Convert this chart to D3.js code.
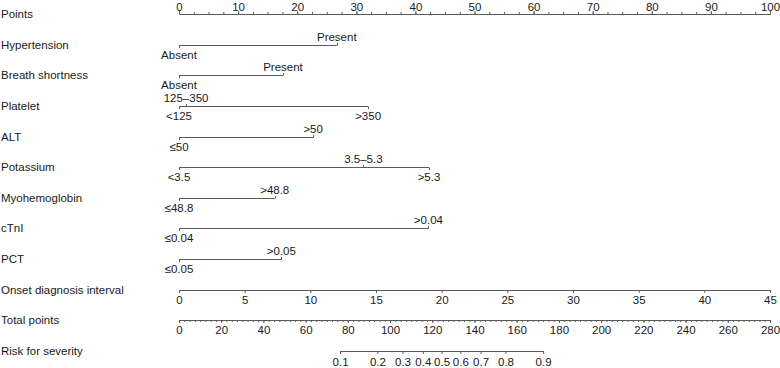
<!DOCTYPE html>
<html>
<head>
<meta charset="utf-8">
<script src="https://cdn.jsdelivr.net/npm/d3@7"></script>
<style>
  html, body { margin: 0; padding: 0; background: #fff; }
  svg { display: block; }
  text { font-family: "Liberation Sans", Arial, Helvetica, sans-serif; fill: #1a1a1a; }
</style>
</head>
<body>
<svg id="chart" width="780" height="368"></svg>
<script>
// ---------------- data ----------------
const rowNames = ["Points", "Hypertension", "Breath shortness", "Platelet", "ALT", "Potassium",
  "Myohemoglobin", "cTnI", "PCT", "Onset diagnosis interval", "Total points", "Risk for severity"];

const pointsTicks = [0, 10, 20, 30, 40, 50, 60, 70, 80, 90, 100];
const pointsMinor = d3.range(0, 100.01, 2.5);

// categorical predictors: level labels, point values, label side (1 = above, -1 = below)
const hypertensionLevels = ["Absent", "Present"];
const hypertensionPoints = [0, 26.7];
const hypertensionSide = [-1, 1];

const breathLevels = ["Absent", "Present"];
const breathPoints = [0, 17.6];
const breathSide = [-1, 1];

const plateletLevels = ["<125", "125–350", ">350"];
const plateletPoints = [0, 1.2, 32.0];
const plateletSide = [-1, 1, -1];

const altLevels = ["≤50", ">50"];
const altPoints = [0, 22.7];
const altSide = [-1, 1];

const potassiumLevels = ["<3.5", "3.5–5.3", ">5.3"];
const potassiumPoints = [0, 31.2, 42.3];
const potassiumSide = [-1, 1, -1];

const myoLevels = ["≤48.8", ">48.8"];
const myoPoints = [0, 16.2];
const myoSide = [-1, 1];

const ctniLevels = ["≤0.04", ">0.04"];
const ctniPoints = [0, 42.2];
const ctniSide = [-1, 1];

const pctLevels = ["≤0.05", ">0.05"];
const pctPoints = [0, 17.3];
const pctSide = [-1, 1];

const onsetTicks = [0, 5, 10, 15, 20, 25, 30, 35, 40, 45];

const totalTicks = [0, 20, 40, 60, 80, 100, 120, 140, 160, 180, 200, 220, 240, 260, 280];
const totalMinor = d3.range(0, 280.01, 2.5);

const riskLabels = ["0.1", "0.2", "0.3", "0.4", "0.5", "0.6", "0.7", "0.8", "0.9"];
const riskTotalPoints = [76.3, 94.0, 105.9, 115.5, 124.4, 133.3, 142.9, 154.7, 172.5];

// ---------------- layout ----------------
const svg = d3.select("#chart");
const x0 = 179, x1 = 770;
const xPts = d3.scaleLinear().domain([0, 100]).range([x0, x1]);
const xOnset = d3.scaleLinear().domain([0, 45]).range([x0, x1]);
const xTot = d3.scaleLinear().domain([0, 280]).range([x0, x1]);
const yRow = d3.scalePoint().domain(rowNames).range([14, 351]);

const lineColor = "#5a5a5a";
const fs = "11.5px";

// row labels
svg.append("g").selectAll("text").data(rowNames).join("text")
  .attr("x", 1).attr("y", d => yRow(d) + 4)
  .style("font-size", fs)
  .text(d => d);

function styleAxis(g) {
  g.selectAll("path.domain").attr("stroke", lineColor).attr("stroke-width", 1);
  g.selectAll(".tick line").attr("stroke", lineColor).attr("stroke-width", 1);
  g.selectAll(".tick text").style("font-size", fs).attr("fill", "#1a1a1a")
    .style("font-family", '"Liberation Sans", Arial, sans-serif');
}

// Points axis (top)
const gPts = svg.append("g").attr("transform", `translate(0,${yRow("Points")})`);
gPts.append("g").call(d3.axisTop(xPts).tickValues(pointsMinor).tickFormat("").tickSize(2).tickSizeOuter(0)).call(styleAxis);
gPts.append("g").call(d3.axisTop(xPts).tickValues(pointsTicks).tickSize(3).tickPadding(0.5).tickSizeOuter(0)).call(styleAxis);

// categorical predictor rows
const catRows = [
  ["Hypertension", hypertensionLevels, hypertensionPoints, hypertensionSide],
  ["Breath shortness", breathLevels, breathPoints, breathSide],
  ["Platelet", plateletLevels, plateletPoints, plateletSide],
  ["ALT", altLevels, altPoints, altSide],
  ["Potassium", potassiumLevels, potassiumPoints, potassiumSide],
  ["Myohemoglobin", myoLevels, myoPoints, myoSide],
  ["cTnI", ctniLevels, ctniPoints, ctniSide],
  ["PCT", pctLevels, pctPoints, pctSide]
];

catRows.forEach(([name, levels, pts, side]) => {
  const y = Math.round(yRow(name)) + 0.5;
  const g = svg.append("g");
  const ext = d3.extent(pts);
  g.append("line")
    .attr("x1", xPts(ext[0])).attr("x2", xPts(ext[1]))
    .attr("y1", y).attr("y2", y)
    .attr("stroke", lineColor).attr("stroke-width", 1);
  levels.forEach((lab, i) => {
    const x = Math.round(xPts(pts[i])) + 0.5;
    g.append("line")
      .attr("x1", x).attr("x2", x)
      .attr("y1", y).attr("y2", side[i] > 0 ? y - 2.5 : y + 2.5)
      .attr("stroke", lineColor).attr("stroke-width", 1);
    g.append("text")
      .attr("x", xPts(pts[i]))
      .attr("y", side[i] > 0 ? y - 5 : y + 13)
      .attr("text-anchor", "middle")
      .style("font-size", fs)
      .text(lab);
  });
});

// Onset diagnosis interval
svg.append("g").attr("transform", `translate(0,${Math.round(yRow("Onset diagnosis interval"))})`)
  .call(d3.axisBottom(xOnset).tickValues(onsetTicks).tickSize(3).tickPadding(3).tickSizeOuter(0))
  .call(styleAxis);

// Total points
const gTot = svg.append("g").attr("transform", `translate(0,${Math.round(yRow("Total points"))})`);
gTot.append("g").call(d3.axisBottom(xTot).tickValues(totalMinor).tickFormat("").tickSize(2).tickSizeOuter(0)).call(styleAxis);
gTot.append("g").call(d3.axisBottom(xTot).tickValues(totalTicks).tickSize(3).tickPadding(3).tickSizeOuter(0)).call(styleAxis);

// Risk for severity: axis spans only the labelled risk range
const xRisk = d3.scaleLinear()
  .domain(d3.extent(riskTotalPoints))
  .range(d3.extent(riskTotalPoints).map(xTot));
svg.append("g").attr("transform", `translate(0,${Math.round(yRow("Risk for severity"))})`)
  .call(d3.axisBottom(xRisk).tickValues(riskTotalPoints)
    .tickFormat((d, i) => riskLabels[i]).tickSize(3).tickPadding(4).tickSizeOuter(0))
  .call(styleAxis);
</script>
</body>
</html>
